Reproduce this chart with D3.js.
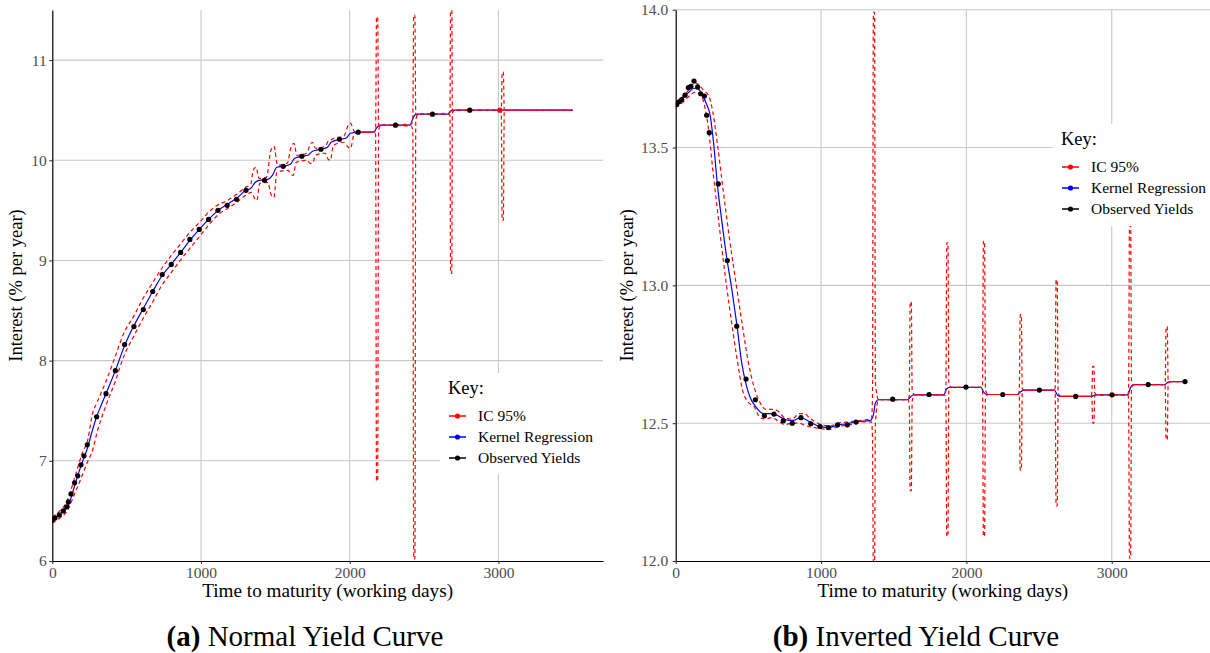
<!DOCTYPE html>
<html><head><meta charset="utf-8">
<script src="https://cdn.jsdelivr.net/npm/d3@7"></script>
<style>
html,body{margin:0;padding:0;background:#fff;}
svg{display:block;font-family:"Liberation Serif","Times New Roman",serif;}
</style></head>
<body><svg id="chart" width="1210" height="653"></svg>
<script>
// ---------- DATA (days, interest % per year) ----------
const legendLabels = ["IC 95%", "Kernel Regression", "Observed Yields"];
const xTicks = [0, 1000, 2000, 3000];
const yTicksA = [6, 7, 8, 9, 10, 11];
const yTicksB = [12.0, 12.5, 13.0, 13.5, 14.0];

// (a) Normal yield curve
const observedA = [[0,6.41],[18,6.43],[47,6.46],[74,6.50],[97,6.54],[108,6.59],[126,6.67],[150,6.78],[171,6.85],[193,6.96],[213,7.05],[235,7.16],[298,7.44],[361,7.67],[424,7.90],[486,8.16],[549,8.34],[612,8.51],[675,8.69],[739,8.86],[800,8.96],[863,9.08],[925,9.21],[988,9.31],[1051,9.41],[1114,9.50],[1176,9.55],[1239,9.61],[1302,9.70],[1427,9.80],[1553,9.94],[1678,10.04],[1806,10.11],[1931,10.21],[2057,10.28],[2308,10.35],[2556,10.46],[2807,10.50]];
const ciPointsA = [[3009,10.50]];
const kernelA = [[0,6.41],[18,6.43],[47,6.46],[74,6.50],[97,6.54],[126,6.63],[150,6.75],[171,6.85],[193,6.95],[213,7.03],[235,7.12],[265,7.28],[298,7.44],[330,7.56],[361,7.67],[424,7.90],[486,8.15],[549,8.35],[612,8.52],[675,8.69],[739,8.85],[800,8.96],[863,9.08],[925,9.20],[988,9.31],[1051,9.41],[1114,9.50],[1176,9.56],[1239,9.62],[1302,9.70],[1335,9.72],[1365,9.78],[1390,9.80],[1450,9.81],[1480,9.85],[1510,9.93],[1553,9.94],[1600,9.96],[1630,10.02],[1678,10.04],[1720,10.05],[1750,10.09],[1806,10.11],[1850,10.13],[1875,10.18],[1931,10.21],[1975,10.22],[2005,10.27],[2057,10.28],[2160,10.28],[2180,10.32],[2200,10.35],[2308,10.35],[2405,10.35],[2425,10.42],[2445,10.46],[2556,10.46],[2660,10.46],[2678,10.49],[2695,10.50],[2807,10.50],[3500,10.50]];
const ciUpA = [[0,6.44],[50,6.50],[100,6.60],[150,6.83],[200,7.07],[240,7.22],[270,7.47],[300,7.58],[360,7.79],[420,8.03],[480,8.27],[550,8.45],[610,8.62],[680,8.79],[740,8.93],[800,9.05],[860,9.16],[925,9.28],[990,9.38],[1050,9.48],[1110,9.55],[1180,9.60],[1240,9.66],[1300,9.73],[1335,9.76],[1350,9.90],[1370,9.93],[1390,9.82],[1440,9.83],[1470,10.10],[1490,10.14],[1515,9.95],[1580,9.97],[1605,10.13],[1625,10.17],[1645,10.05],[1710,10.07],[1735,10.16],[1750,10.18],[1770,10.12],[1835,10.14],[1855,10.19],[1870,10.20],[1895,10.22],[1960,10.24],[1990,10.35],[2005,10.37],[2030,10.29],[2060,10.28],[2164,10.28],[2174,10.30],[2180,11.43],[2188,11.43],[2194,10.34],[2210,10.35],[2414,10.36],[2424,10.40],[2430,11.45],[2438,11.45],[2444,10.45],[2460,10.46],[2666,10.47],[2674,10.48],[2678,11.6],[2686,11.6],[2690,10.49],[2710,10.50],[3019,10.50],[3025,10.88],[3033,10.88],[3039,10.50],[3500,10.50]];
const ciLoA = [[0,6.38],[50,6.43],[100,6.50],[150,6.67],[200,6.85],[240,7.00],[270,7.10],[300,7.28],[360,7.55],[420,7.78],[480,8.04],[550,8.25],[610,8.42],[680,8.60],[740,8.76],[800,8.88],[860,9.00],[925,9.12],[990,9.24],[1050,9.35],[1110,9.45],[1180,9.52],[1240,9.58],[1300,9.65],[1340,9.68],[1360,9.62],[1375,9.60],[1395,9.77],[1450,9.78],[1470,9.66],[1490,9.63],[1510,9.88],[1585,9.90],[1605,9.86],[1620,9.85],[1640,9.98],[1710,10.00],[1735,9.97],[1750,9.97],[1770,10.05],[1835,10.07],[1855,10.01],[1870,10.00],[1890,10.15],[1960,10.18],[1990,10.13],[2005,10.12],[2030,10.26],[2060,10.28],[2164,10.28],[2174,10.26],[2180,6.80],[2188,6.80],[2194,10.30],[2210,10.35],[2414,10.34],[2424,10.30],[2430,6.02],[2438,6.02],[2444,10.40],[2460,10.46],[2666,10.46],[2674,10.45],[2678,8.87],[2686,8.87],[2690,10.47],[2710,10.50],[3019,10.50],[3025,9.40],[3033,9.40],[3039,10.50],[3500,10.50]];

// (b) Inverted yield curve
const observedB = [[7,13.656],[23,13.666],[41,13.674],[64,13.690],[87,13.717],[105,13.722],[126,13.741],[151,13.720],[172,13.695],[197,13.687],[213,13.617],[231,13.554],[293,13.368],[355,13.090],[420,12.852],[484,12.66],[548,12.585],[610,12.527],[676,12.533],[740,12.509],[802,12.50],[862,12.52],[929,12.498],[993,12.488],[1050,12.484],[1114,12.494],[1181,12.494],[1241,12.504],[1493,12.587],[1743,12.604],[1997,12.631],[2250,12.604],[2502,12.620],[2752,12.597],[3002,12.603],[3251,12.640],[3504,12.651]];
const kernelB = [[0,13.655],[30,13.668],[60,13.685],[90,13.70],[125,13.715],[155,13.712],[185,13.69],[210,13.66],[237,13.617],[260,13.52],[286,13.37],[318,13.23],[351,13.10],[385,12.99],[420,12.86],[454,12.72],[480,12.65],[511,12.595],[550,12.56],[603,12.535],[650,12.535],[700,12.528],[760,12.512],[810,12.51],[860,12.52],[920,12.505],[980,12.49],[1050,12.484],[1120,12.494],[1180,12.498],[1240,12.505],[1340,12.51],[1360,12.53],[1375,12.575],[1395,12.585],[1595,12.585],[1615,12.595],[1635,12.603],[1845,12.603],[1865,12.625],[1885,12.63],[2100,12.63],[2120,12.612],[2140,12.604],[2350,12.604],[2375,12.615],[2395,12.62],[2605,12.62],[2625,12.603],[2645,12.597],[2855,12.597],[2880,12.601],[2900,12.603],[3110,12.603],[3130,12.63],[3150,12.64],[3365,12.64],[3385,12.648],[3405,12.651],[3504,12.651]];
const ciUpB = [[0,13.665],[50,13.685],[100,13.715],[130,13.735],[165,13.725],[195,13.705],[225,13.69],[255,13.63],[290,13.50],[330,13.33],[370,13.17],[420,12.99],[460,12.85],[500,12.72],[540,12.63],[580,12.575],[620,12.55],[660,12.55],[700,12.545],[750,12.52],[800,12.515],[850,12.535],[880,12.535],[930,12.515],[1000,12.495],[1060,12.49],[1120,12.50],[1200,12.505],[1300,12.512],[1347,12.515],[1354,12.6],[1360,13.99],[1368,13.99],[1374,12.65],[1395,12.585],[1597,12.585],[1607,12.6],[1613,12.94],[1621,12.94],[1627,12.62],[1645,12.603],[1849,12.603],[1859,12.63],[1865,13.155],[1873,13.155],[1879,12.65],[1895,12.63],[2101,12.63],[2111,12.64],[2117,13.16],[2125,13.16],[2131,12.62],[2150,12.604],[2356,12.604],[2364,12.62],[2370,12.894],[2378,12.894],[2384,12.625],[2400,12.62],[2605,12.62],[2611,12.63],[2617,13.02],[2625,13.02],[2631,12.61],[2650,12.597],[2856,12.597],[2863,12.61],[2869,12.706],[2877,12.706],[2883,12.61],[2900,12.603],[3110,12.603],[3116,12.62],[3122,13.217],[3130,13.217],[3136,12.65],[3155,12.64],[3365,12.64],[3368,12.65],[3374,12.85],[3382,12.85],[3388,12.655],[3405,12.651],[3504,12.651]];
const ciLoB = [[0,13.645],[50,13.665],[100,13.69],[130,13.70],[165,13.695],[195,13.66],[225,13.57],[255,13.42],[290,13.26],[330,13.08],[370,12.92],[420,12.74],[460,12.62],[500,12.575],[540,12.56],[580,12.52],[620,12.515],[660,12.52],[700,12.51],[750,12.495],[800,12.50],[850,12.50],[900,12.49],[950,12.485],[1000,12.48],[1060,12.478],[1120,12.488],[1200,12.495],[1300,12.505],[1347,12.505],[1354,12.45],[1360,11.97],[1368,11.97],[1374,12.5],[1395,12.585],[1597,12.585],[1607,12.57],[1613,12.255],[1621,12.255],[1627,12.58],[1645,12.603],[1849,12.603],[1859,12.59],[1865,12.09],[1873,12.09],[1879,12.62],[1895,12.63],[2101,12.63],[2111,12.62],[2117,12.09],[2125,12.09],[2131,12.59],[2150,12.604],[2356,12.604],[2364,12.6],[2370,12.33],[2378,12.33],[2384,12.61],[2400,12.62],[2605,12.62],[2611,12.61],[2617,12.20],[2625,12.20],[2631,12.59],[2650,12.597],[2856,12.597],[2863,12.59],[2869,12.50],[2877,12.50],[2883,12.6],[2900,12.603],[3110,12.603],[3116,12.59],[3122,12.01],[3130,12.01],[3136,12.63],[3155,12.64],[3365,12.64],[3368,12.63],[3374,12.44],[3382,12.44],[3388,12.645],[3405,12.651],[3504,12.651]];

// ---------- DRAWING ----------
const svg = d3.select("#chart");
const colors = ["#ff0000", "#0000ff", "#000000"];
const gridColor = "#c8c8c8";

function panel(cfg) {
  const x = d3.scaleLinear().domain(cfg.xDomain).range([cfg.left, cfg.right]);
  const y = d3.scaleLinear().domain(cfg.yDomain).range([cfg.bottom, cfg.top]);
  const g = svg.append("g");
  const clipId = "clip" + cfg.id;
  svg.append("clipPath").attr("id", clipId).append("rect")
    .attr("x", cfg.left).attr("y", cfg.top)
    .attr("width", cfg.right - cfg.left).attr("height", cfg.bottom - cfg.top);

  // grid
  g.selectAll(".gx").data(xTicks.filter(d => d > 0)).join("line")
    .attr("x1", d => x(d)).attr("x2", d => x(d))
    .attr("y1", cfg.top).attr("y2", cfg.bottom)
    .attr("stroke", gridColor).attr("stroke-width", 1.1);
  g.selectAll(".gy").data(cfg.yTicks.slice(1)).join("line")
    .attr("x1", cfg.left).attr("x2", cfg.right)
    .attr("y1", d => y(d)).attr("y2", d => y(d))
    .attr("stroke", gridColor).attr("stroke-width", 1.1);

  const line = d3.line().x(d => x(d[0])).y(d => y(d[1])).curve(d3.curveMonotoneX);
  const plot = g.append("g").attr("clip-path", `url(#${clipId})`);
  plot.append("path").datum(cfg.kernel).attr("d", line)
    .attr("fill", "none").attr("stroke", colors[1]).attr("stroke-width", 1.2);
  [cfg.ciUp, cfg.ciLo].forEach(s => {
    plot.append("path").datum(s).attr("d", line)
      .attr("fill", "none").attr("stroke", colors[0]).attr("stroke-width", 1.2)
      .attr("stroke-dasharray", "4,3");
  });
  plot.selectAll(".cip").data(cfg.ciPoints).join("circle")
    .attr("cx", d => x(d[0])).attr("cy", d => y(d[1])).attr("r", 2.6).attr("fill", colors[0]);
  plot.selectAll(".obs").data(cfg.observed).join("circle")
    .attr("cx", d => x(d[0])).attr("cy", d => y(d[1])).attr("r", 2.6).attr("fill", colors[2]);

  // axes
  const ax = g.append("g").attr("transform", `translate(0,${cfg.bottom})`)
    .call(d3.axisBottom(x).tickValues(xTicks).tickFormat(d3.format("d")).tickSize(3).tickSizeOuter(0).tickPadding(3));
  const ay = g.append("g").attr("transform", `translate(${cfg.left},0)`)
    .call(d3.axisLeft(y).tickValues(cfg.yTicks).tickFormat(cfg.yFormat).tickSize(3).tickSizeOuter(0).tickPadding(cfg.yPad));
  [ax, ay].forEach(a => {
    a.select(".domain").attr("stroke", "#000").attr("stroke-width", 1.2);
    a.selectAll(".tick line").attr("stroke", "#333").attr("stroke-width", 1.1);
    a.selectAll(".tick text").attr("fill", "#4d4d4d").attr("font-size", 15.5)
      .attr("font-family", "Liberation Serif, serif");
  });

  // axis titles
  g.append("text").attr("x", (cfg.left + cfg.right) / 2).attr("y", 597)
    .attr("text-anchor", "middle").attr("font-size", 19.2).attr("fill", "#000")
    .text("Time to maturity (working days)");
  g.append("text").attr("transform", `translate(${cfg.yTitleX},${(cfg.top + cfg.bottom) / 2}) rotate(-90)`)
    .attr("text-anchor", "middle").attr("font-size", 18.5).attr("fill", "#000")
    .text("Interest (% per year)");

  // legend
  const L = cfg.legend;
  g.append("rect").attr("x", L.x).attr("y", L.y).attr("width", L.w).attr("height", L.h).attr("fill", "#fff");
  g.append("text").attr("x", L.x + 8).attr("y", L.y + 21).attr("font-size", 18.5).attr("fill", "#000").text("Key:");
  legendLabels.forEach((lab, i) => {
    const cy = L.y + 43 + i * 21;
    g.append("line").attr("x1", L.x + 9).attr("x2", L.x + 26).attr("y1", cy).attr("y2", cy)
      .attr("stroke", colors[i]).attr("stroke-width", 1.5);
    g.append("circle").attr("cx", L.x + 17.5).attr("cy", cy).attr("r", 2.6).attr("fill", colors[i]);
    g.append("text").attr("x", L.x + 38).attr("y", cy + 5).attr("font-size", 15.5).attr("fill", "#000").text(lab);
  });

  // caption
  const cap = g.append("text").attr("x", cfg.capX).attr("y", 646).attr("text-anchor", "middle")
    .attr("font-size", 29).attr("fill", "#000");
  cap.append("tspan").attr("font-weight", "bold").text(cfg.capTag);
  cap.append("tspan").text(" " + cfg.capText);
}

panel({id: "A", xDomain: [0, 3703], yDomain: [6, 11.5], left: 52.3, right: 603, top: 10, bottom: 561,
  yTicks: yTicksA, yFormat: d3.format("d"), yPad: 2.5, yTitleX: 22,
  kernel: kernelA, ciUp: ciUpA, ciLo: ciLoA, observed: observedA, ciPoints: ciPointsA,
  legend: {x: 440, y: 373, w: 163, h: 101}, capX: 305, capTag: "(a)", capText: "Normal Yield Curve"});

panel({id: "B", xDomain: [0, 3676], yDomain: [12, 14], left: 675.7, right: 1210, top: 9.7, bottom: 561,
  yTicks: yTicksB, yFormat: d3.format(".1f"), yPad: 4.5, yTitleX: 633,
  kernel: kernelB, ciUp: ciUpB, ciLo: ciLoB, observed: observedB, ciPoints: [],
  legend: {x: 1053, y: 124, w: 157, h: 102}, capX: 916, capTag: "(b)", capText: "Inverted Yield Curve"});
</script>
</body></html>
